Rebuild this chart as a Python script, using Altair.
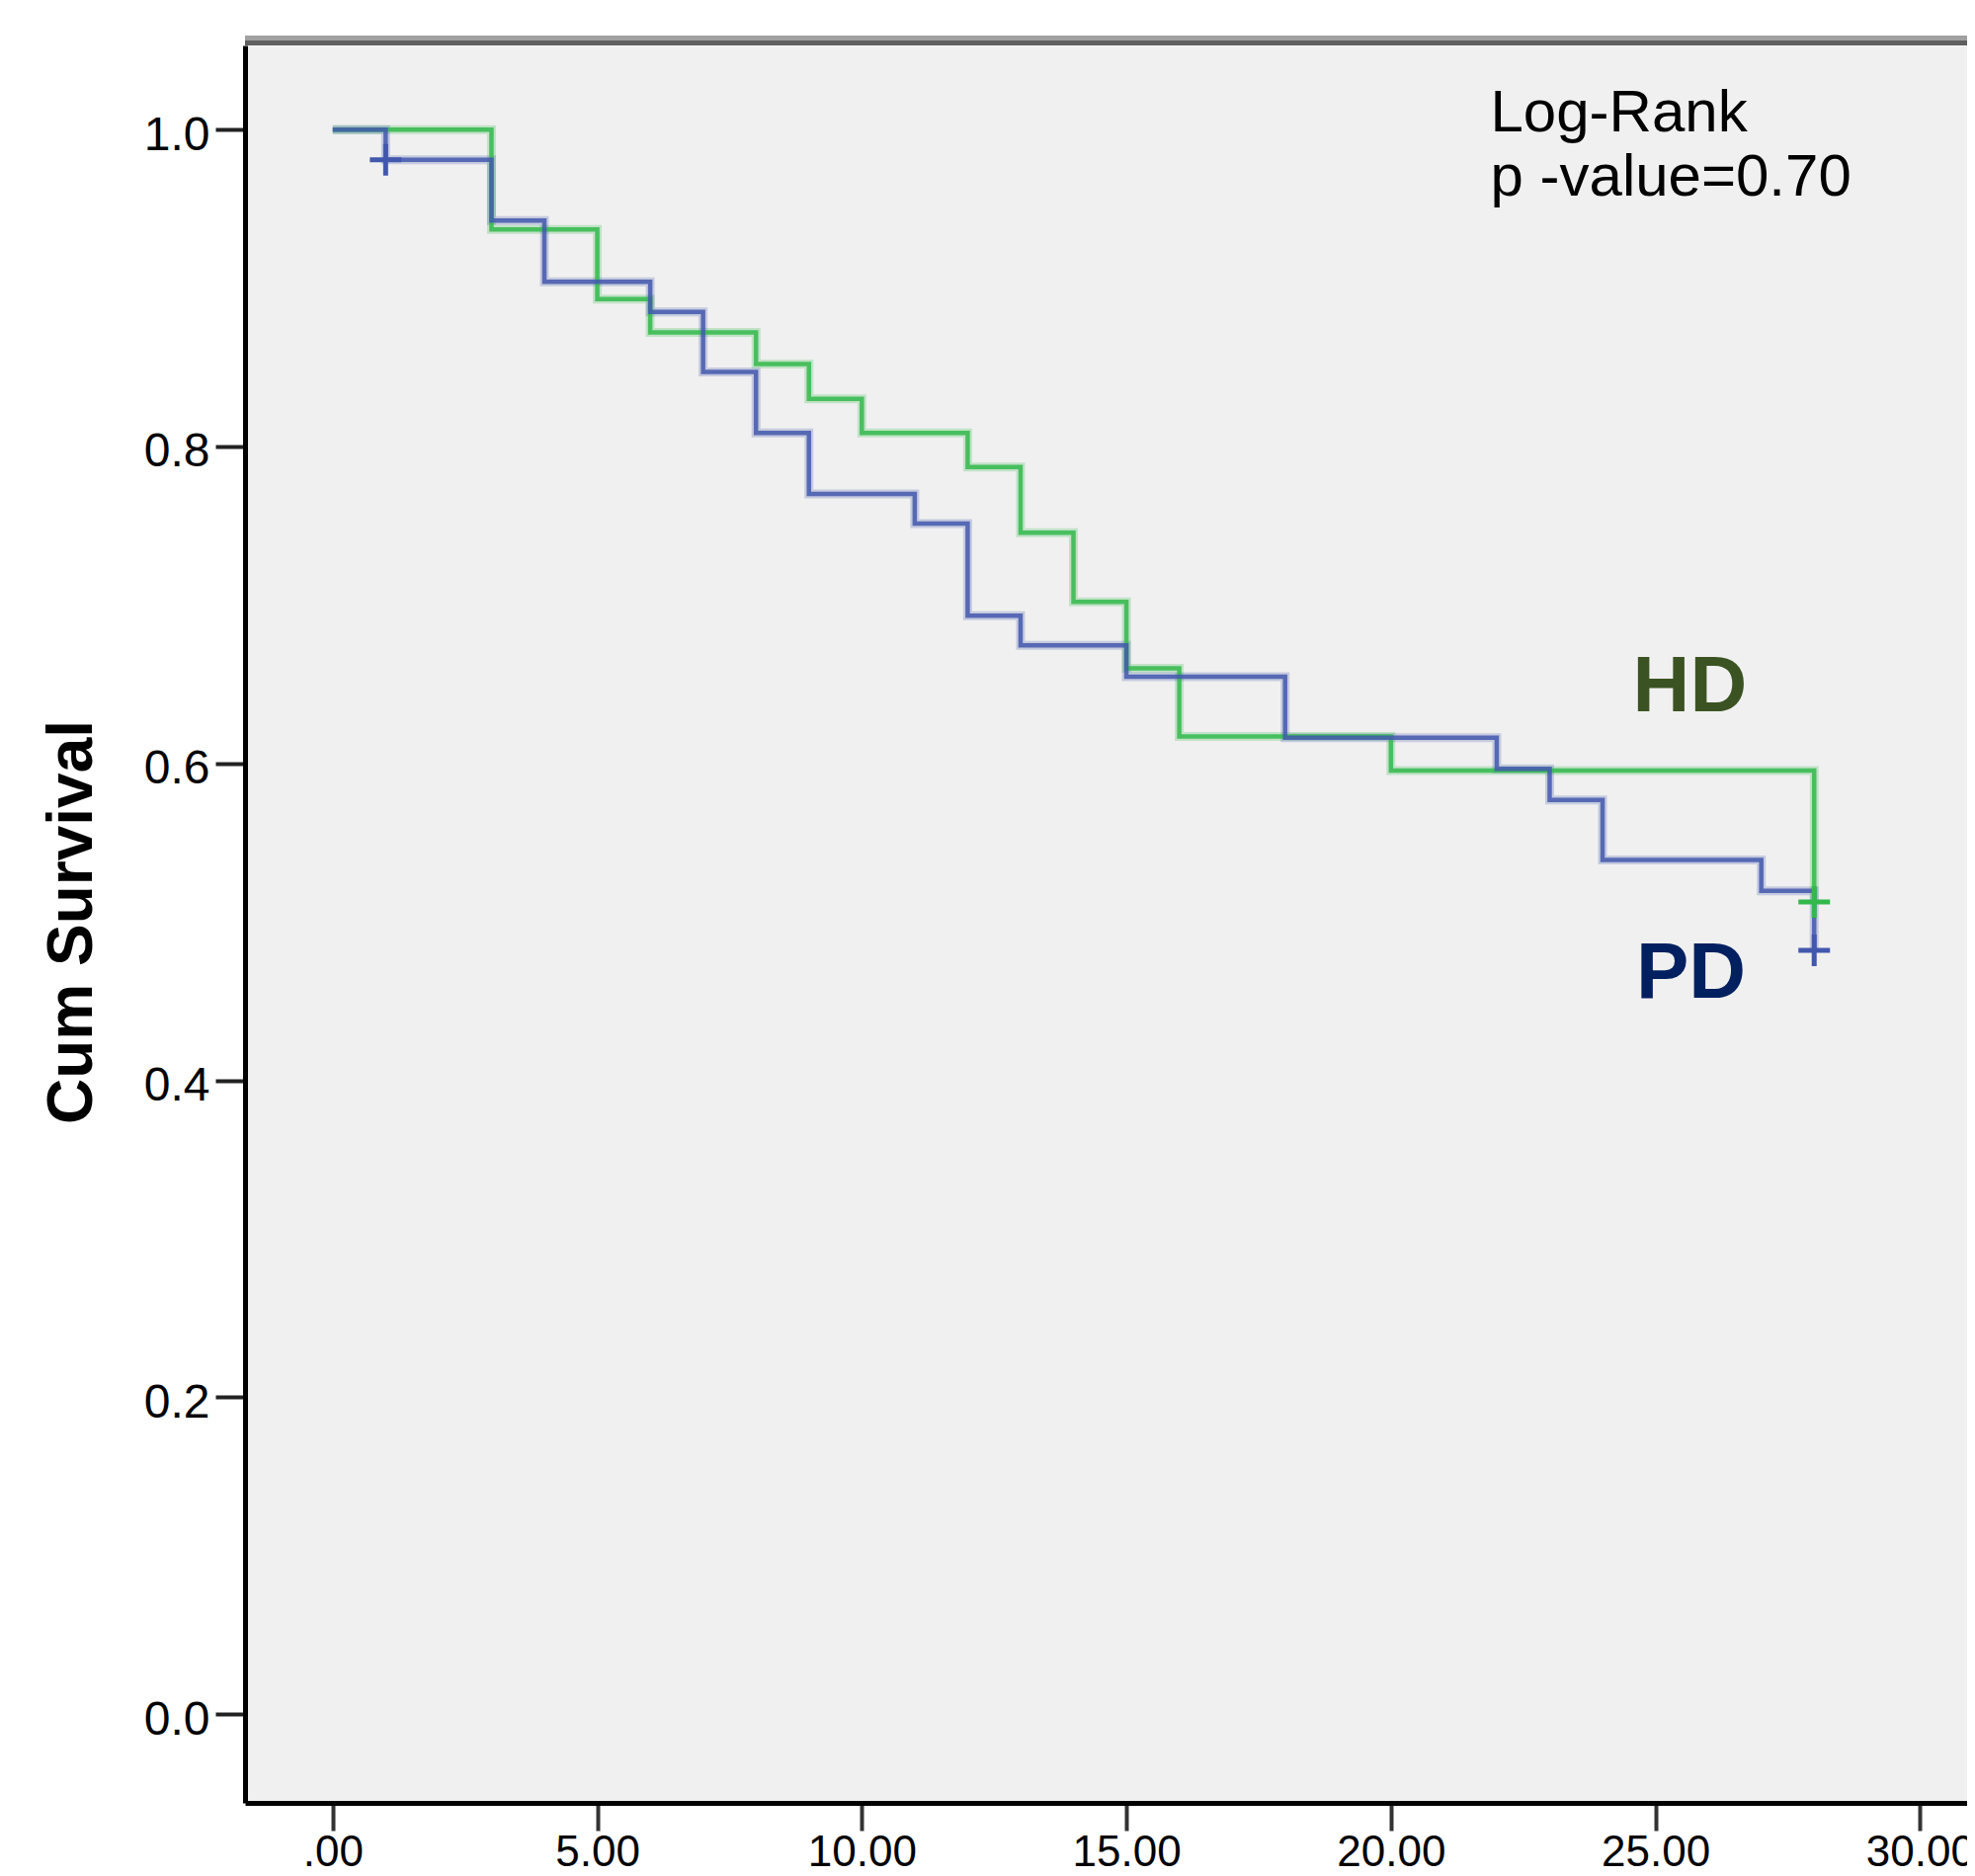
import altair as alt
import pandas as pd

# ---- data ----
hd_time = [0, 3, 5, 6, 8, 9, 10, 12, 13, 14, 15, 16, 20, 28]
hd_surv = [1.0, 0.937, 0.893, 0.872, 0.852, 0.830, 0.8085, 0.787, 0.7456, 0.702, 0.660, 0.617, 0.5955, 0.5126]
pd_time = [0, 1, 3, 4, 6, 7, 8, 9, 11, 12, 13, 15, 18, 22, 23, 24, 27, 28]
pd_surv = [1.0, 0.981, 0.9426, 0.904, 0.885, 0.847, 0.8085, 0.770, 0.7514, 0.6932, 0.6745, 0.6547, 0.6163, 0.5966, 0.577, 0.539, 0.5196, 0.482]
cens_group = ["HD", "PD", "PD"]
cens_time = [28, 1, 28]
cens_surv = [0.5126, 0.981, 0.482]
x_ticks = [0, 5, 10, 15, 20, 25, 30]
y_ticks = [0.0, 0.2, 0.4, 0.6, 0.8, 1.0]
groups = ["HD", "PD"]
line_colors = ["#33b84b", "#4258ad"]
label_colors = ["#3b5323", "#00205f"]
label_text = ["HD", "PD"]
label_time = [25.65, 25.67]
label_surv = [0.633, 0.452]
note_text = ["Log-Rank", "p -value=0.70"]
note_time = [21.88, 21.88]
note_surv = [0.9989, 0.9584]

W, H = 1743, 1779
X_DOM = [-1.658, 30.89]
Y_DOM = [-0.056, 1.0531]
FONT = "Liberation Sans"

curves = pd.DataFrame({
    "time": hd_time + pd_time,
    "surv": hd_surv + pd_surv,
    "group": ["HD"] * len(hd_time) + ["PD"] * len(pd_time),
})
cens = pd.DataFrame({"time": cens_time, "surv": cens_surv, "group": cens_group})
labels = pd.DataFrame({"time": label_time, "surv": label_surv, "text": label_text, "group": groups})
notes = pd.DataFrame({"time": note_time, "surv": note_surv, "text": note_text})

xs = alt.Scale(domain=X_DOM, nice=False, zero=False)
ys = alt.Scale(domain=Y_DOM, nice=False, zero=False)
cs = alt.Scale(domain=groups, range=line_colors)

x_axis = alt.Axis(
    values=x_ticks, title=None, grid=False,
    labelExpr="datum.value == 0 ? '.00' : format(datum.value, '.2f')",
    domainColor="black", domainWidth=5,
    tickColor="#333333", tickWidth=4, tickSize=28,
    labelFontSize=44, labelFont=FONT, labelColor="black", labelPadding=0,
    labelFlush=False, labelOverlap=False,
)
y_axis = alt.Axis(
    values=y_ticks, format=".1f", grid=False,
    title="Cum Survival", titleFontSize=64, titleFont=FONT, titleFontWeight="bold",
    titleColor="black", titleAngle=270, titleX=-175, titleY=887,
    titleAlign="center", titleBaseline="middle",
    domainColor="black", domainWidth=5,
    tickColor="#222222", tickWidth=4, tickSize=30,
    labelFontSize=48, labelFont=FONT, labelColor="black", labelPadding=6,
    labelOffset=6, labelFlush=False, labelOverlap=False,
)

base = alt.Chart(curves)

halo = base.mark_line(interpolate="step-after", strokeWidth=9, opacity=0.25).encode(
    x=alt.X("time:Q", scale=xs, axis=x_axis),
    y=alt.Y("surv:Q", scale=ys, axis=y_axis),
    color=alt.Color("group:N", scale=cs, legend=None),
    detail="group:N",
)
main = base.mark_line(interpolate="step-after", strokeWidth=4.5, opacity=0.85).encode(
    x=alt.X("time:Q", scale=xs),
    y=alt.Y("surv:Q", scale=ys),
    color=alt.Color("group:N", scale=cs, legend=None),
    detail="group:N",
)
plus = alt.Chart(cens).mark_point(
    shape="M-1,0L1,0M0,-1L0,1", filled=False, strokeWidth=5, size=1024, opacity=1
).encode(
    x=alt.X("time:Q", scale=xs),
    y=alt.Y("surv:Q", scale=ys),
    color=alt.Color("group:N", scale=cs, legend=None),
)

one = pd.DataFrame({"k": [0]})
top_dark = alt.Chart(one).mark_rule(stroke="#5f5f5f", strokeWidth=5).encode(
    x=alt.value(0), x2=alt.value(W + 10), y=alt.value(-2.5)
)
top_light = alt.Chart(one).mark_rule(stroke="#a0a0a0", strokeWidth=5).encode(
    x=alt.value(0), x2=alt.value(W + 10), y=alt.value(-7.5)
)

grp_text = alt.Chart(labels).mark_text(
    font=FONT, fontSize=80, fontWeight="bold", align="center", baseline="alphabetic"
).encode(
    x=alt.X("time:Q", scale=xs),
    y=alt.Y("surv:Q", scale=ys),
    text="text:N",
    color=alt.Color("group:N", scale=alt.Scale(domain=groups, range=label_colors), legend=None),
)
note = alt.Chart(notes).mark_text(
    font=FONT, fontSize=60, align="left", baseline="alphabetic", color="black"
).encode(
    x=alt.X("time:Q", scale=xs),
    y=alt.Y("surv:Q", scale=ys),
    text="text:N",
)

chart = alt.layer(halo, main, plus, top_light, top_dark, grp_text, note).resolve_scale(
    color="independent"
).properties(
    width=W, height=H,
    autosize=alt.AutoSizeParams(type="none"),
    padding={"left": 240, "top": 38, "right": 0, "bottom": 66},
    background="white",
).configure_view(
    fill="#f0f0f0", stroke="transparent"
)

chart.save("out.html", embed_options={"renderer": "svg", "actions": False})
